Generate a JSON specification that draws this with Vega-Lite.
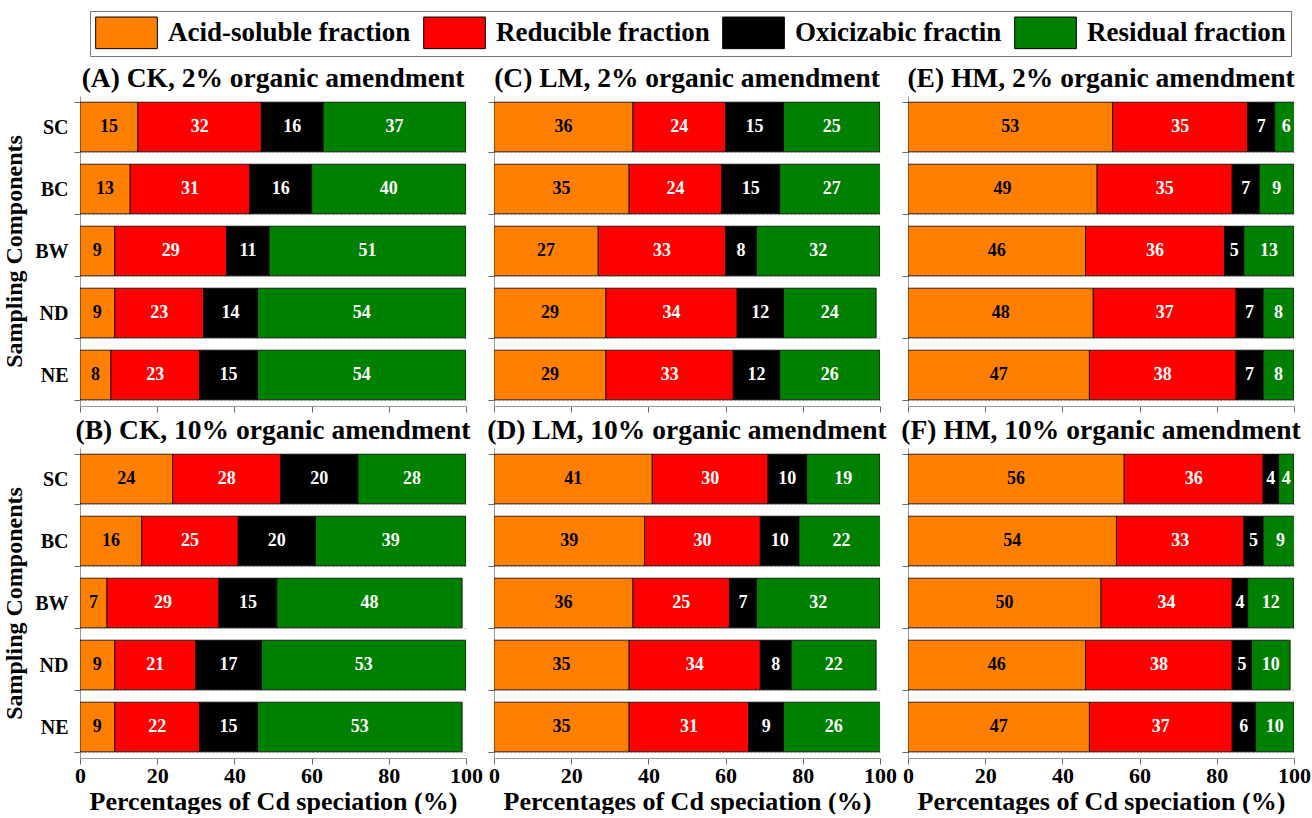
{
  "$schema": "https://vega.github.io/schema/vega-lite/v6.json",
  "background": "white",
  "padding": {"left": 2, "top": 10, "right": 0, "bottom": 0},
  "bounds": "flush",
  "columns": 3,
  "spacing": {"row": 42, "column": 28},
  "datasets": {
    "cd": [
      {"panel": "A", "comp": "SC", "k": 1, "frac": "Acid-soluble fraction", "v": 15},
      {"panel": "A", "comp": "SC", "k": 2, "frac": "Reducible fraction", "v": 32},
      {"panel": "A", "comp": "SC", "k": 3, "frac": "Oxicizabic fractin", "v": 16},
      {"panel": "A", "comp": "SC", "k": 4, "frac": "Residual fraction", "v": 37},
      {"panel": "A", "comp": "BC", "k": 1, "frac": "Acid-soluble fraction", "v": 13},
      {"panel": "A", "comp": "BC", "k": 2, "frac": "Reducible fraction", "v": 31},
      {"panel": "A", "comp": "BC", "k": 3, "frac": "Oxicizabic fractin", "v": 16},
      {"panel": "A", "comp": "BC", "k": 4, "frac": "Residual fraction", "v": 40},
      {"panel": "A", "comp": "BW", "k": 1, "frac": "Acid-soluble fraction", "v": 9},
      {"panel": "A", "comp": "BW", "k": 2, "frac": "Reducible fraction", "v": 29},
      {"panel": "A", "comp": "BW", "k": 3, "frac": "Oxicizabic fractin", "v": 11},
      {"panel": "A", "comp": "BW", "k": 4, "frac": "Residual fraction", "v": 51},
      {"panel": "A", "comp": "ND", "k": 1, "frac": "Acid-soluble fraction", "v": 9},
      {"panel": "A", "comp": "ND", "k": 2, "frac": "Reducible fraction", "v": 23},
      {"panel": "A", "comp": "ND", "k": 3, "frac": "Oxicizabic fractin", "v": 14},
      {"panel": "A", "comp": "ND", "k": 4, "frac": "Residual fraction", "v": 54},
      {"panel": "A", "comp": "NE", "k": 1, "frac": "Acid-soluble fraction", "v": 8},
      {"panel": "A", "comp": "NE", "k": 2, "frac": "Reducible fraction", "v": 23},
      {"panel": "A", "comp": "NE", "k": 3, "frac": "Oxicizabic fractin", "v": 15},
      {"panel": "A", "comp": "NE", "k": 4, "frac": "Residual fraction", "v": 54},

      {"panel": "B", "comp": "SC", "k": 1, "frac": "Acid-soluble fraction", "v": 24},
      {"panel": "B", "comp": "SC", "k": 2, "frac": "Reducible fraction", "v": 28},
      {"panel": "B", "comp": "SC", "k": 3, "frac": "Oxicizabic fractin", "v": 20},
      {"panel": "B", "comp": "SC", "k": 4, "frac": "Residual fraction", "v": 28},
      {"panel": "B", "comp": "BC", "k": 1, "frac": "Acid-soluble fraction", "v": 16},
      {"panel": "B", "comp": "BC", "k": 2, "frac": "Reducible fraction", "v": 25},
      {"panel": "B", "comp": "BC", "k": 3, "frac": "Oxicizabic fractin", "v": 20},
      {"panel": "B", "comp": "BC", "k": 4, "frac": "Residual fraction", "v": 39},
      {"panel": "B", "comp": "BW", "k": 1, "frac": "Acid-soluble fraction", "v": 7},
      {"panel": "B", "comp": "BW", "k": 2, "frac": "Reducible fraction", "v": 29},
      {"panel": "B", "comp": "BW", "k": 3, "frac": "Oxicizabic fractin", "v": 15},
      {"panel": "B", "comp": "BW", "k": 4, "frac": "Residual fraction", "v": 48},
      {"panel": "B", "comp": "ND", "k": 1, "frac": "Acid-soluble fraction", "v": 9},
      {"panel": "B", "comp": "ND", "k": 2, "frac": "Reducible fraction", "v": 21},
      {"panel": "B", "comp": "ND", "k": 3, "frac": "Oxicizabic fractin", "v": 17},
      {"panel": "B", "comp": "ND", "k": 4, "frac": "Residual fraction", "v": 53},
      {"panel": "B", "comp": "NE", "k": 1, "frac": "Acid-soluble fraction", "v": 9},
      {"panel": "B", "comp": "NE", "k": 2, "frac": "Reducible fraction", "v": 22},
      {"panel": "B", "comp": "NE", "k": 3, "frac": "Oxicizabic fractin", "v": 15},
      {"panel": "B", "comp": "NE", "k": 4, "frac": "Residual fraction", "v": 53},

      {"panel": "C", "comp": "SC", "k": 1, "frac": "Acid-soluble fraction", "v": 36},
      {"panel": "C", "comp": "SC", "k": 2, "frac": "Reducible fraction", "v": 24},
      {"panel": "C", "comp": "SC", "k": 3, "frac": "Oxicizabic fractin", "v": 15},
      {"panel": "C", "comp": "SC", "k": 4, "frac": "Residual fraction", "v": 25},
      {"panel": "C", "comp": "BC", "k": 1, "frac": "Acid-soluble fraction", "v": 35},
      {"panel": "C", "comp": "BC", "k": 2, "frac": "Reducible fraction", "v": 24},
      {"panel": "C", "comp": "BC", "k": 3, "frac": "Oxicizabic fractin", "v": 15},
      {"panel": "C", "comp": "BC", "k": 4, "frac": "Residual fraction", "v": 27},
      {"panel": "C", "comp": "BW", "k": 1, "frac": "Acid-soluble fraction", "v": 27},
      {"panel": "C", "comp": "BW", "k": 2, "frac": "Reducible fraction", "v": 33},
      {"panel": "C", "comp": "BW", "k": 3, "frac": "Oxicizabic fractin", "v": 8},
      {"panel": "C", "comp": "BW", "k": 4, "frac": "Residual fraction", "v": 32},
      {"panel": "C", "comp": "ND", "k": 1, "frac": "Acid-soluble fraction", "v": 29},
      {"panel": "C", "comp": "ND", "k": 2, "frac": "Reducible fraction", "v": 34},
      {"panel": "C", "comp": "ND", "k": 3, "frac": "Oxicizabic fractin", "v": 12},
      {"panel": "C", "comp": "ND", "k": 4, "frac": "Residual fraction", "v": 24},
      {"panel": "C", "comp": "NE", "k": 1, "frac": "Acid-soluble fraction", "v": 29},
      {"panel": "C", "comp": "NE", "k": 2, "frac": "Reducible fraction", "v": 33},
      {"panel": "C", "comp": "NE", "k": 3, "frac": "Oxicizabic fractin", "v": 12},
      {"panel": "C", "comp": "NE", "k": 4, "frac": "Residual fraction", "v": 26},

      {"panel": "D", "comp": "SC", "k": 1, "frac": "Acid-soluble fraction", "v": 41},
      {"panel": "D", "comp": "SC", "k": 2, "frac": "Reducible fraction", "v": 30},
      {"panel": "D", "comp": "SC", "k": 3, "frac": "Oxicizabic fractin", "v": 10},
      {"panel": "D", "comp": "SC", "k": 4, "frac": "Residual fraction", "v": 19},
      {"panel": "D", "comp": "BC", "k": 1, "frac": "Acid-soluble fraction", "v": 39},
      {"panel": "D", "comp": "BC", "k": 2, "frac": "Reducible fraction", "v": 30},
      {"panel": "D", "comp": "BC", "k": 3, "frac": "Oxicizabic fractin", "v": 10},
      {"panel": "D", "comp": "BC", "k": 4, "frac": "Residual fraction", "v": 22},
      {"panel": "D", "comp": "BW", "k": 1, "frac": "Acid-soluble fraction", "v": 36},
      {"panel": "D", "comp": "BW", "k": 2, "frac": "Reducible fraction", "v": 25},
      {"panel": "D", "comp": "BW", "k": 3, "frac": "Oxicizabic fractin", "v": 7},
      {"panel": "D", "comp": "BW", "k": 4, "frac": "Residual fraction", "v": 32},
      {"panel": "D", "comp": "ND", "k": 1, "frac": "Acid-soluble fraction", "v": 35},
      {"panel": "D", "comp": "ND", "k": 2, "frac": "Reducible fraction", "v": 34},
      {"panel": "D", "comp": "ND", "k": 3, "frac": "Oxicizabic fractin", "v": 8},
      {"panel": "D", "comp": "ND", "k": 4, "frac": "Residual fraction", "v": 22},
      {"panel": "D", "comp": "NE", "k": 1, "frac": "Acid-soluble fraction", "v": 35},
      {"panel": "D", "comp": "NE", "k": 2, "frac": "Reducible fraction", "v": 31},
      {"panel": "D", "comp": "NE", "k": 3, "frac": "Oxicizabic fractin", "v": 9},
      {"panel": "D", "comp": "NE", "k": 4, "frac": "Residual fraction", "v": 26},

      {"panel": "E", "comp": "SC", "k": 1, "frac": "Acid-soluble fraction", "v": 53},
      {"panel": "E", "comp": "SC", "k": 2, "frac": "Reducible fraction", "v": 35},
      {"panel": "E", "comp": "SC", "k": 3, "frac": "Oxicizabic fractin", "v": 7},
      {"panel": "E", "comp": "SC", "k": 4, "frac": "Residual fraction", "v": 6},
      {"panel": "E", "comp": "BC", "k": 1, "frac": "Acid-soluble fraction", "v": 49},
      {"panel": "E", "comp": "BC", "k": 2, "frac": "Reducible fraction", "v": 35},
      {"panel": "E", "comp": "BC", "k": 3, "frac": "Oxicizabic fractin", "v": 7},
      {"panel": "E", "comp": "BC", "k": 4, "frac": "Residual fraction", "v": 9},
      {"panel": "E", "comp": "BW", "k": 1, "frac": "Acid-soluble fraction", "v": 46},
      {"panel": "E", "comp": "BW", "k": 2, "frac": "Reducible fraction", "v": 36},
      {"panel": "E", "comp": "BW", "k": 3, "frac": "Oxicizabic fractin", "v": 5},
      {"panel": "E", "comp": "BW", "k": 4, "frac": "Residual fraction", "v": 13},
      {"panel": "E", "comp": "ND", "k": 1, "frac": "Acid-soluble fraction", "v": 48},
      {"panel": "E", "comp": "ND", "k": 2, "frac": "Reducible fraction", "v": 37},
      {"panel": "E", "comp": "ND", "k": 3, "frac": "Oxicizabic fractin", "v": 7},
      {"panel": "E", "comp": "ND", "k": 4, "frac": "Residual fraction", "v": 8},
      {"panel": "E", "comp": "NE", "k": 1, "frac": "Acid-soluble fraction", "v": 47},
      {"panel": "E", "comp": "NE", "k": 2, "frac": "Reducible fraction", "v": 38},
      {"panel": "E", "comp": "NE", "k": 3, "frac": "Oxicizabic fractin", "v": 7},
      {"panel": "E", "comp": "NE", "k": 4, "frac": "Residual fraction", "v": 8},

      {"panel": "F", "comp": "SC", "k": 1, "frac": "Acid-soluble fraction", "v": 56},
      {"panel": "F", "comp": "SC", "k": 2, "frac": "Reducible fraction", "v": 36},
      {"panel": "F", "comp": "SC", "k": 3, "frac": "Oxicizabic fractin", "v": 4},
      {"panel": "F", "comp": "SC", "k": 4, "frac": "Residual fraction", "v": 4},
      {"panel": "F", "comp": "BC", "k": 1, "frac": "Acid-soluble fraction", "v": 54},
      {"panel": "F", "comp": "BC", "k": 2, "frac": "Reducible fraction", "v": 33},
      {"panel": "F", "comp": "BC", "k": 3, "frac": "Oxicizabic fractin", "v": 5},
      {"panel": "F", "comp": "BC", "k": 4, "frac": "Residual fraction", "v": 9},
      {"panel": "F", "comp": "BW", "k": 1, "frac": "Acid-soluble fraction", "v": 50},
      {"panel": "F", "comp": "BW", "k": 2, "frac": "Reducible fraction", "v": 34},
      {"panel": "F", "comp": "BW", "k": 3, "frac": "Oxicizabic fractin", "v": 4},
      {"panel": "F", "comp": "BW", "k": 4, "frac": "Residual fraction", "v": 12},
      {"panel": "F", "comp": "ND", "k": 1, "frac": "Acid-soluble fraction", "v": 46},
      {"panel": "F", "comp": "ND", "k": 2, "frac": "Reducible fraction", "v": 38},
      {"panel": "F", "comp": "ND", "k": 3, "frac": "Oxicizabic fractin", "v": 5},
      {"panel": "F", "comp": "ND", "k": 4, "frac": "Residual fraction", "v": 10},
      {"panel": "F", "comp": "NE", "k": 1, "frac": "Acid-soluble fraction", "v": 47},
      {"panel": "F", "comp": "NE", "k": 2, "frac": "Reducible fraction", "v": 37},
      {"panel": "F", "comp": "NE", "k": 3, "frac": "Oxicizabic fractin", "v": 6},
      {"panel": "F", "comp": "NE", "k": 4, "frac": "Residual fraction", "v": 10}
    ]
  },
  "data": {"name": "cd"},
  "transform": [
    {"stack": "v", "groupby": ["panel", "comp"], "sort": [{"field": "k"}], "as": ["x0", "x1"]},
    {"calculate": "(datum.x0 + datum.x1) / 2", "as": "xmid"}
  ],
  "concat": [
    {
      "title": {"text": "(A) CK, 2% organic amendment", "dy": 10},
      "width": 386, "height": 310,
      "transform": [{"filter": "datum.panel === 'A'"}],
      "encoding": {
        "y": {"field": "comp", "type": "nominal", "sort": ["SC", "BC", "BW", "ND", "NE"], "title": "Sampling Components"}
      },
      "layer": [
        {"mark": {"type": "bar", "stroke": "black", "strokeWidth": 0.8, "clip": true},
         "encoding": {
           "x": {"field": "x0", "type": "quantitative", "scale": {"domain": [0, 100]}, "axis": {"values": [0, 20, 40, 60, 80, 100], "labels": false, "title": null}},
           "x2": {"field": "x1"},
           "color": {"field": "frac", "type": "nominal", "scale": {"domain": ["Acid-soluble fraction", "Reducible fraction", "Oxicizabic fractin", "Residual fraction"], "range": ["#FF8000", "#FF0000", "#000000", "#008000"]}}}},
        {"mark": {"type": "text"},
         "encoding": {"x": {"field": "xmid", "type": "quantitative"}, "text": {"field": "v"}, "color": {"condition": {"test": "datum.k == 1", "value": "black"}, "value": "white"}}}
      ]
    },
    {
      "title": "(C) LM, 2% organic amendment",
      "width": 386, "height": 310,
      "transform": [{"filter": "datum.panel === 'C'"}],
      "encoding": {
        "y": {"field": "comp", "type": "nominal", "sort": ["SC", "BC", "BW", "ND", "NE"], "axis": {"labels": false, "title": null}}
      },
      "layer": [
        {"mark": {"type": "bar", "stroke": "black", "strokeWidth": 0.8, "clip": true},
         "encoding": {
           "x": {"field": "x0", "type": "quantitative", "scale": {"domain": [0, 100]}, "axis": {"values": [0, 20, 40, 60, 80, 100], "labels": false, "title": null}},
           "x2": {"field": "x1"},
           "color": {"field": "frac", "type": "nominal"}}},
        {"mark": {"type": "text"},
         "encoding": {"x": {"field": "xmid", "type": "quantitative"}, "text": {"field": "v"}, "color": {"condition": {"test": "datum.k == 1", "value": "black"}, "value": "white"}}}
      ]
    },
    {
      "title": "(E) HM, 2% organic amendment",
      "width": 386, "height": 310,
      "transform": [{"filter": "datum.panel === 'E'"}],
      "encoding": {
        "y": {"field": "comp", "type": "nominal", "sort": ["SC", "BC", "BW", "ND", "NE"], "axis": {"labels": false, "title": null}}
      },
      "layer": [
        {"mark": {"type": "bar", "stroke": "black", "strokeWidth": 0.8, "clip": true},
         "encoding": {
           "x": {"field": "x0", "type": "quantitative", "scale": {"domain": [0, 100]}, "axis": {"values": [0, 20, 40, 60, 80, 100], "labels": false, "title": null}},
           "x2": {"field": "x1"},
           "color": {"field": "frac", "type": "nominal"}}},
        {"mark": {"type": "text"},
         "encoding": {"x": {"field": "xmid", "type": "quantitative"}, "text": {"field": "v"}, "color": {"condition": {"test": "datum.k == 1", "value": "black"}, "value": "white"}}}
      ]
    },
    {
      "title": {"text": "(B) CK, 10% organic amendment", "dy": 10},
      "width": 386, "height": 310,
      "transform": [{"filter": "datum.panel === 'B'"}],
      "encoding": {
        "y": {"field": "comp", "type": "nominal", "sort": ["SC", "BC", "BW", "ND", "NE"], "title": "Sampling Components"}
      },
      "layer": [
        {"mark": {"type": "bar", "stroke": "black", "strokeWidth": 0.8, "clip": true},
         "encoding": {
           "x": {"field": "x0", "type": "quantitative", "scale": {"domain": [0, 100]}, "axis": {"values": [0, 20, 40, 60, 80, 100]}, "title": "Percentages of Cd speciation (%)"},
           "x2": {"field": "x1"},
           "color": {"field": "frac", "type": "nominal"}}},
        {"mark": {"type": "text"},
         "encoding": {"x": {"field": "xmid", "type": "quantitative"}, "text": {"field": "v"}, "color": {"condition": {"test": "datum.k == 1", "value": "black"}, "value": "white"}}}
      ]
    },
    {
      "title": "(D) LM, 10% organic amendment",
      "width": 386, "height": 310,
      "transform": [{"filter": "datum.panel === 'D'"}],
      "encoding": {
        "y": {"field": "comp", "type": "nominal", "sort": ["SC", "BC", "BW", "ND", "NE"], "axis": {"labels": false, "title": null}}
      },
      "layer": [
        {"mark": {"type": "bar", "stroke": "black", "strokeWidth": 0.8, "clip": true},
         "encoding": {
           "x": {"field": "x0", "type": "quantitative", "scale": {"domain": [0, 100]}, "axis": {"values": [0, 20, 40, 60, 80, 100]}, "title": "Percentages of Cd speciation (%)"},
           "x2": {"field": "x1"},
           "color": {"field": "frac", "type": "nominal"}}},
        {"mark": {"type": "text"},
         "encoding": {"x": {"field": "xmid", "type": "quantitative"}, "text": {"field": "v"}, "color": {"condition": {"test": "datum.k == 1", "value": "black"}, "value": "white"}}}
      ]
    },
    {
      "title": "(F) HM, 10% organic amendment",
      "width": 386, "height": 310,
      "transform": [{"filter": "datum.panel === 'F'"}],
      "encoding": {
        "y": {"field": "comp", "type": "nominal", "sort": ["SC", "BC", "BW", "ND", "NE"], "axis": {"labels": false, "title": null}}
      },
      "layer": [
        {"mark": {"type": "bar", "stroke": "black", "strokeWidth": 0.8, "clip": true},
         "encoding": {
           "x": {"field": "x0", "type": "quantitative", "scale": {"domain": [0, 100]}, "axis": {"values": [0, 20, 40, 60, 80, 100]}, "title": "Percentages of Cd speciation (%)"},
           "x2": {"field": "x1"},
           "color": {"field": "frac", "type": "nominal"}}},
        {"mark": {"type": "text"},
         "encoding": {"x": {"field": "xmid", "type": "quantitative"}, "text": {"field": "v"}, "color": {"condition": {"test": "datum.k == 1", "value": "black"}, "value": "white"}}}
      ]
    }
  ],
  "resolve": {"scale": {"color": "shared"}},
  "config": {
    "view": {"stroke": null},
    "font": "Liberation Serif",
    "title": {"font": "Liberation Serif", "fontSize": 27.5, "fontWeight": "bold", "color": "black", "anchor": "middle", "frame": "group", "offset": 4},
    "scale": {"bandPaddingInner": 0.2, "bandPaddingOuter": 0.1},
    "axis": {
      "labelFont": "Liberation Serif", "labelFontWeight": "bold", "labelColor": "black",
      "titleFont": "Liberation Serif", "titleFontWeight": "bold", "titleColor": "black",
      "domainColor": "#999999", "tickColor": "#666666", "tickSize": 6
    },
    "axisX": {"grid": false, "labelFontSize": 22, "titleFontSize": 26, "labelPadding": 1, "titlePadding": 2, "labelFlush": false},
    "axisY": {"labelFontSize": 20, "titleFontSize": 24, "tickBand": "extent", "grid": true, "gridDash": [2, 2], "gridColor": "#BBBBBB", "labelPadding": 6, "titlePadding": 8},
    "text": {"font": "Liberation Serif", "fontWeight": "bold", "fontSize": 18},
    "legend": {
      "orient": "none", "legendX": 10, "legendY": -85, "direction": "horizontal", "columns": 4, "title": null,
      "strokeColor": "#777777", "padding": 5,
      "labelFont": "Liberation Serif", "labelFontWeight": "bold", "labelFontSize": 27, "labelColor": "black",
      "labelLimit": 400, "labelOffset": 40, "columnPadding": 10,
      "symbolType": "M-1,-1L2.9,-1L2.9,1L-1,1Z", "symbolSize": 1000,
      "symbolStrokeColor": "black", "symbolStrokeWidth": 1, "symbolOpacity": 1
    }
  }
}
